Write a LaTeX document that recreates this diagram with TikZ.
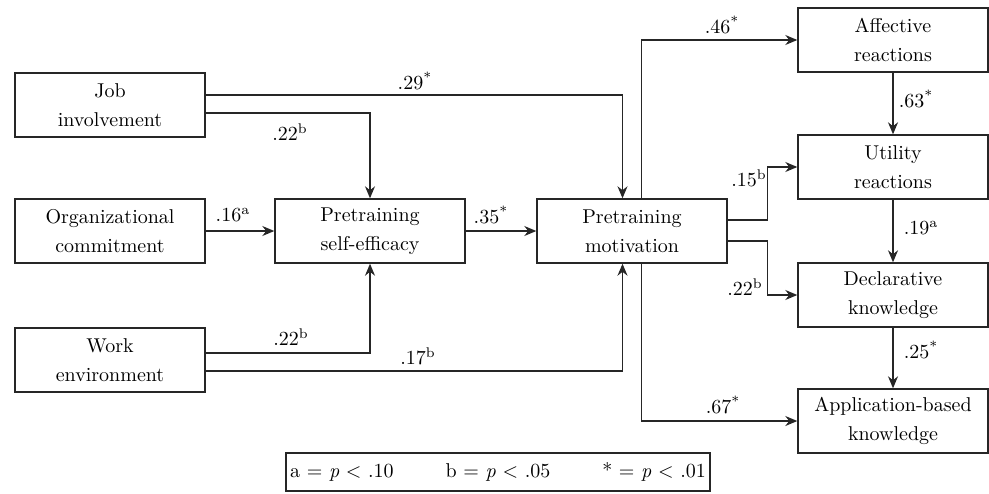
\documentclass[tikz,border=0pt]{standalone}
\usetikzlibrary{positioning,arrows.meta,calc}
\tikzset{
  varb/.style={draw=black!85, line width=0.7pt, align=center, minimum width=95pt,
    minimum height=32pt, inner sep=2pt, font=\fontsize{10}{14.5}\selectfont},
  keyb/.style={draw=black!85, line width=0.7pt, minimum width=211pt,
    minimum height=19pt, inner sep=2pt, font=\fontsize{10}{12}\selectfont},
  flow/.style={-{Stealth[length=6pt,width=5pt]}, line width=0.65pt, draw=black!85},
  flab/.style={font=\fontsize{10}{12}\selectfont, inner sep=0pt},
}

\begin{document}
\begin{tikzpicture}[x=0.5pt, y=-0.5pt]
  \useasboundingbox (0,0) rectangle (989,493);
  % antecedents
  \node[varb] (job) at (110,105) {Job\\involvement};
  \node[varb] (org) at (110,231) {Organizational\\commitment};
  \node[varb] (work) at (110,360) {Work\\environment};
  % mediators
  \node[varb] (selfeff) at (370,231) {Pretraining\\self-efficacy};
  \node[varb] (motiv) at (632,231) {Pretraining\\motivation};
  % outcomes
  \node[varb] (affect) at (893,40) {Affective\\reactions};
  \node[varb] (utility) at (893,167) {Utility\\reactions};
  \node[varb] (declar) at (893,295) {Declarative\\knowledge};
  \node[varb] (applic) at (893,421) {Application-based\\knowledge};
  % significance key
  \node[keyb] (key) at (498,472)
    {a $=$ \textit{p} $<$ .10\hspace{2.6em}b $=$ \textit{p} $<$ .05\hspace{2.6em}* $=$ \textit{p} $<$ .01};

  \draw[flow] ($(job.east)+(0,-10)$) -| ($(motiv.north)+(-9.5,0)$);
  \draw[flow] ($(job.east)+(0,8)$) -| (selfeff.north);
  \draw[flow] (org.east) -- (selfeff.west);
  \draw[flow] (selfeff.east) -- (motiv.west);
  \draw[flow] ($(work.east)+(0,-7)$) -| (selfeff.south);
  \draw[flow] ($(work.east)+(0,11)$) -| ($(motiv.south)+(-9.5,0)$);
  \draw[flow] ($(motiv.north)+(9.5,0)$) |- (affect.west);
  \draw[flow] ($(motiv.east)+(0,-11)$) -- ++(40,0) |- (utility.west);
  \draw[flow] ($(motiv.east)+(0,10)$) -- ++(40,0) |- (declar.west);
  \draw[flow] ($(motiv.south)+(9.5,0)$) |- (applic.west);
  \draw[flow] (affect) -- (utility);
  \draw[flow] (utility) -- (declar);
  \draw[flow] (declar) -- (applic);

  \node[flab] at (415,81) {.29\textsuperscript{*}};
  \node[flab] at (290,132) {.22\textsuperscript{b}};
  \node[flab] at (233,215) {.16\textsuperscript{a}};
  \node[flab] at (491,215) {.35\textsuperscript{*}};
  \node[flab] at (291,337) {.22\textsuperscript{b}};
  \node[flab] at (418,356) {.17\textsuperscript{b}};
  \node[flab] at (722,25) {.46\textsuperscript{*}};
  \node[flab] at (916,99) {.63\textsuperscript{*}};
  \node[flab] at (749,178) {.15\textsuperscript{b}};
  \node[flab] at (921,228) {.19\textsuperscript{a}};
  \node[flab] at (745,287) {.22\textsuperscript{b}};
  \node[flab] at (921,350) {.25\textsuperscript{*}};
  \node[flab] at (723,405) {.67\textsuperscript{*}};
\end{tikzpicture}
\end{document}
